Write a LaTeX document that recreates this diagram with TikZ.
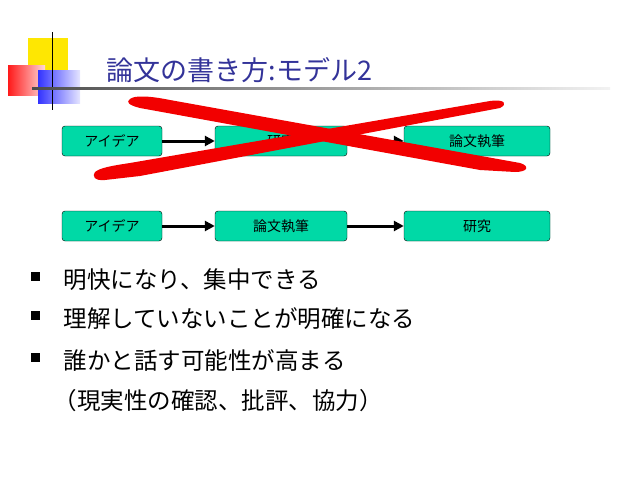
\documentclass[tikz,border=0pt]{standalone}
\usepackage{fontspec}
\setmainfont{Noto Sans CJK JP}
\usetikzlibrary{arrows.meta}
\definecolor{boxg}{HTML}{00D9A6}
\definecolor{ttl}{HTML}{333399}
\begin{document}
\begin{tikzpicture}[x=1pt,y=-1pt,
  flow/.style={draw=black,fill=boxg,rounded corners=3pt,minimum height=30pt,font=\fontsize{14}{16}\selectfont,inner sep=0pt},
  arr/.style={-{Triangle[length=10pt,width=10pt]},line width=3pt},
  bul/.style={anchor=base west,font=\fontsize{23.5}{27}\selectfont}]
\useasboundingbox (0,0) rectangle (638,479);
% decoration
\fill[yellow!90!orange] (28,38) rectangle (68,78);
\shade[left color=red!90,right color=red!15] (8,65) rectangle (45,95);
\shade[left color=blue!80,right color=blue!10] (38,70) rectangle (80,103);
\draw[line width=1pt] (52,32) -- (52,110);
\shade[left color=black!70,right color=black!5] (32,87.5) rectangle (610,89.5);
\node[anchor=base west,text=ttl,font=\fontsize{27}{30}\selectfont] (title) at (103,80) {論文の書き方:モデル2};
% top row
\node[flow,minimum width=100pt] (a1) at (112,141) {アイデア};
\node[flow,minimum width=132pt] (b1) at (281,141) {研究};
\node[flow,minimum width=146pt] (c1) at (477,141) {論文執筆};
\draw[arr] (a1) -- (b1);
\draw[arr] (b1) -- (c1);
% bottom row
\node[flow,minimum width=100pt] (a2) at (112,226) {アイデア};
\node[flow,minimum width=132pt] (b2) at (281,226) {論文執筆};
\node[flow,minimum width=146pt] (c2) at (477,226) {研究};
\draw[arr] (a2) -- (b2);
\draw[arr] (b2) -- (c2);
% red X
\fill[red!95!black] (130,99) .. controls (135,95) and (150,96) .. (170,100) -- (520,163) .. controls (530,166) and (528,172) .. (515,172) -- (480,170) -- (140,108) .. controls (128,105) and (126,102) .. (130,99) -- cycle;
\fill[red!95!black] (95,172) .. controls (100,168) and (110,166) .. (130,163) -- (490,101) .. controls (505,99) and (508,104) .. (500,108) -- (140,176) -- (105,180) .. controls (94,181) and (92,176) .. (95,172) -- cycle;
% bullets
\foreach \y/\t [count=\i] in {288/明快になり、集中できる,327/理解していないことが明確になる,369/誰かと話す可能性が高まる}{
  \fill (31,\y-16) rectangle (40,\y-7);
  \node[bul] (t\i) at (60,\y) {\t};
}
\node[bul] (t4) at (50,409) {（現実性の確認、批評、協力）};
\end{tikzpicture}
\end{document}
